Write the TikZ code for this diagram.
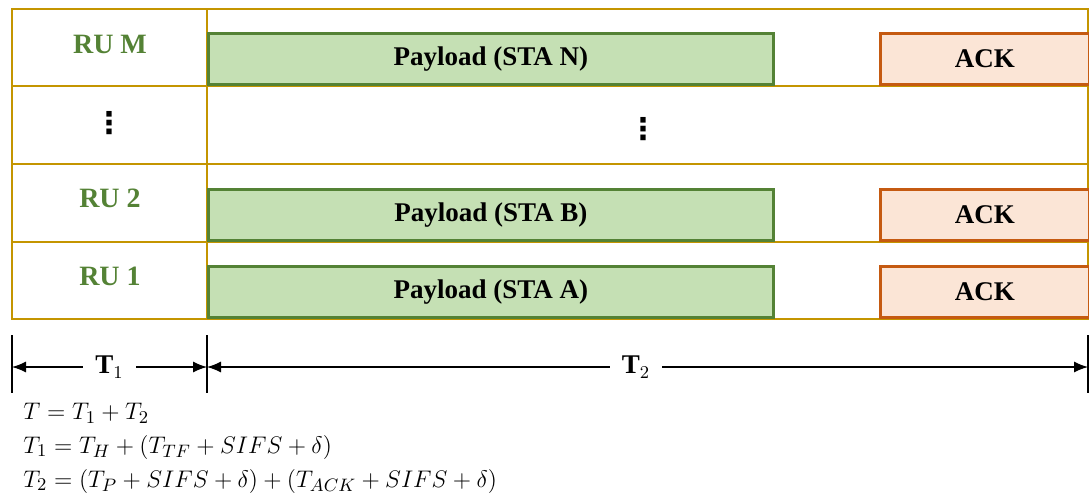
\documentclass[tikz,border=0pt]{standalone}
\usepackage{fontspec}
\setmainfont{Liberation Serif}
\newfontfamily\symfont{DejaVu Sans}
\usepackage{tikz}
\usetikzlibrary{arrows.meta}
\definecolor{gold}{HTML}{C49500}
\definecolor{paygreen}{HTML}{C5E0B4}
\definecolor{payline}{HTML}{548235}
\definecolor{ackfill}{HTML}{FBE5D6}
\definecolor{ackline}{HTML}{C55A11}
\tikzstyle{grid}    = [draw=gold, line width=1.25pt]
\tikzstyle{payload} = [rectangle, anchor=south west, minimum width=282.5pt, minimum height=25.5pt, text centered, draw=payline, line width=1.4pt, fill=paygreen, font=\fontsize{13.5}{16}\selectfont\bfseries]
\tikzstyle{ack}     = [rectangle, anchor=south west, minimum width=104.5pt, minimum height=25.5pt, text centered, draw=ackline, line width=1.4pt, fill=ackfill, font=\fontsize{13.5}{16}\selectfont\bfseries]
\tikzstyle{rulabel} = [text=payline, font=\fontsize{14}{16}\selectfont\bfseries]
\tikzstyle{dots}    = [font=\fontsize{15}{16}\selectfont\symfont\bfseries]
\tikzstyle{tick}    = [line width=0.6pt]
\tikzstyle{arrow}   = [line width=0.6pt, >={Latex[length=7pt,width=5.5pt]}]
\tikzstyle{eq}      = [anchor=west, inner sep=0pt, font=\fontsize{12.5}{15}\selectfont]
\begin{document}
\begin{tikzpicture}[x=0.5pt, y=-0.5pt]
    \useasboundingbox (0,0) rectangle (1089,500);

    % frame and rows
    \draw [grid] (12,9) rectangle (1088,319);
    \foreach \y in {86,164,242}
        \draw [grid] (12,\y) -- (1088,\y);
    \draw [grid] (207,9) -- (207,319);

    % resource units
    \node (rum)  [rulabel] at (110,44)  {RU M};
    \node (rudots) [dots]  at (109,123) {⋮};
    \node (ru2)  [rulabel] at (110,198) {RU 2};
    \node (ru1)  [rulabel] at (110,276) {RU 1};

    \node (paym) [payload] at (207,86)  {Payload (STA N)};
    \node (ackm) [ack]     at (879,86)  {ACK};
    \node (paydots) [dots] at (643,129) {⋮};
    \node (payb) [payload] at (207,242) {Payload (STA B)};
    \node (ackb) [ack]     at (879,242) {ACK};
    \node (paya) [payload] at (207,319) {Payload (STA A)};
    \node (acka) [ack]     at (879,319) {ACK};

    % durations
    \draw [tick] (12,335) -- (12,393);
    \draw [tick] (207,335) -- (207,393);
    \draw [tick] (1088,335) -- (1088,393);
    \coordinate (ta) at (12,367);
    \coordinate (tb) at (207,367);
    \coordinate (tc) at (1088,367);
    \draw [arrow, <->] (ta) -- (tb)
        node (tone) [midway, fill=white, inner xsep=6pt, font=\fontsize{13.5}{16}\selectfont] {\textbf{T}$_1$};
    \draw [arrow, <->] (tb) -- (tc)
        node (ttwo) [pos=0.487, fill=white, inner xsep=6pt, font=\fontsize{13.5}{16}\selectfont] {\textbf{T}$_2$};

    % formulas
    \node (eqt)  [eq] at (23,413) {$T = T_1 + T_2$};
    \node (eqto) [eq] at (23,447) {$T_1 = T_H + (T_{TF} + SIFS + \delta)$};
    \node (eqtt) [eq] at (23,481) {$T_2 = (T_P + SIFS + \delta) + (T_{ACK} + SIFS + \delta)$};

\end{tikzpicture}
\end{document}
